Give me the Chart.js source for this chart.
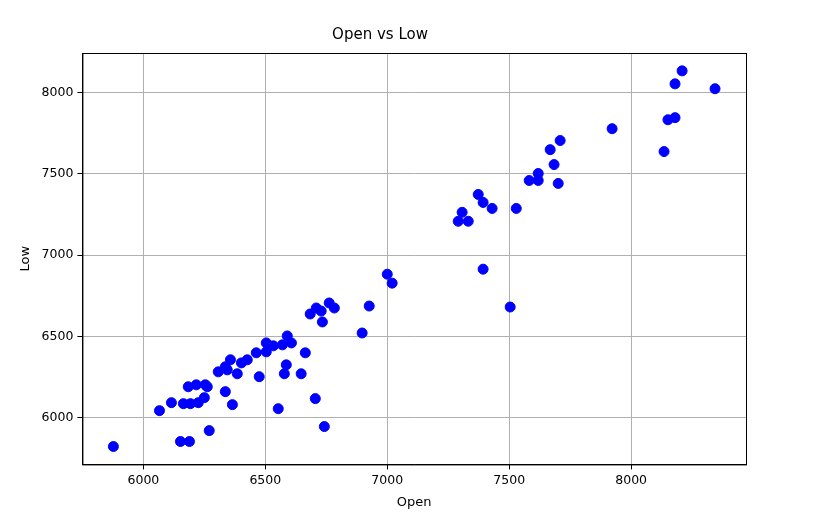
<!DOCTYPE html>
<html>
<head>
<meta charset="utf-8">
<script src="https://cdn.jsdelivr.net/npm/chart.js@4"></script>
<style>
  html, body { margin: 0; padding: 0; background: #fff; }
</style>
</head>
<body>
<canvas id="grafico" width="828" height="518"></canvas>
<script>
// valores
const openVals = [5877, 6066, 6115, 6164, 6193, 6225, 6250, 6184, 6217, 6254, 6262, 6307, 6336, 6357, 6344,
  6365, 6270, 6152, 6189, 6385, 6402, 6426, 6463, 6504, 6504, 6533, 6570, 6590, 6607, 6475,
  6586, 6578, 6664, 6647, 6553, 6709, 6729, 6684, 6705, 6734, 6762, 6783, 6742, 6897, 6926,
  7000, 7020, 7291, 7307, 7332, 7373, 7393, 7430, 7529, 7393, 7504, 7582, 7619, 7619, 7684,
  7668, 7709, 7701, 7922, 8135, 8151, 8180, 8180, 8209, 8344, 6336];
const lowVals = [5822, 6043, 6092, 6086, 6086, 6092, 6123, 6190, 6202, 6202, 6190, 6282, 6313, 6356, 6294,
  6080, 5920, 5853, 5853, 6270, 6337, 6356, 6399, 6460, 6405, 6442, 6448, 6503, 6460, 6252,
  6325, 6270, 6399, 6270, 6055, 6675, 6656, 6638, 6117, 6589, 6706, 6675, 5945, 6521, 6687,
  6883, 6828, 7209, 7264, 7209, 7374, 7325, 7288, 7288, 6914, 6681, 7460, 7503, 7460, 7558,
  7650, 7706, 7442, 7779, 7638, 7834, 7847, 8055, 8135, 8025, 6160];
const xTicks = [6000, 6500, 7000, 7500, 8000];
const yTicks = [6000, 6500, 7000, 7500, 8000];

const pontos = openVals.map((v, i) => ({ x: v, y: lowVals[i] }));
const fonte = "'DejaVu Sans', sans-serif";

new Chart(document.getElementById("grafico"), {
  type: "scatter",
  data: {
    datasets: [{
      data: pontos,
      backgroundColor: "#0000ff",
      borderColor: "#0000ff",
      pointRadius: 5,
      pointHoverRadius: 5
    }]
  },
  options: {
    responsive: false,
    animation: false,
    devicePixelRatio: 1,
    layout: { padding: { left: 14, right: 82, top: 8, bottom: 6 } },
    plugins: {
      legend: { display: false },
      tooltip: { enabled: false },
      title: {
        display: true, text: "Open vs Low", color: "#000",
        font: { family: fonte, size: 15, weight: "normal" },
        padding: { top: 18, bottom: 9 }
      }
    },
    scales: {
      x: {
        type: "linear", min: 5750, max: 8471,
        afterBuildTicks: ax => { ax.ticks = xTicks.map(v => ({ value: v })); },
        ticks: { color: "#000", font: { family: fonte, size: 12.5 }, padding: 4, callback: v => String(v) },
        grid: { color: "#b0b0b0", tickLength: 5, tickColor: "#000" },
        border: { color: "#000" },
        title: { display: true, text: "Open", color: "#000", font: { family: fonte, size: 13 }, padding: 2 }
      },
      y: {
        type: "linear", min: 5712, max: 8245,
        afterBuildTicks: ax => { ax.ticks = yTicks.map(v => ({ value: v })); },
        ticks: { color: "#000", font: { family: fonte, size: 12.5 }, padding: 4, callback: v => String(v) },
        grid: { color: "#b0b0b0", tickLength: 5, tickColor: "#000" },
        border: { color: "#000" },
        title: { display: true, text: "Low", color: "#000", font: { family: fonte, size: 13 }, padding: 4 }
      }
    }
  },
  plugins: [{
    id: "moldura",
    afterDraw(chart) {
      const { ctx, chartArea: a } = chart;
      ctx.save();
      ctx.strokeStyle = "#000";
      ctx.lineWidth = 1;
      ctx.strokeRect(a.left + 0.5, a.top + 0.5, a.right - a.left, a.bottom - a.top);
      ctx.restore();
    }
  }]
});
</script>
</body>
</html>
